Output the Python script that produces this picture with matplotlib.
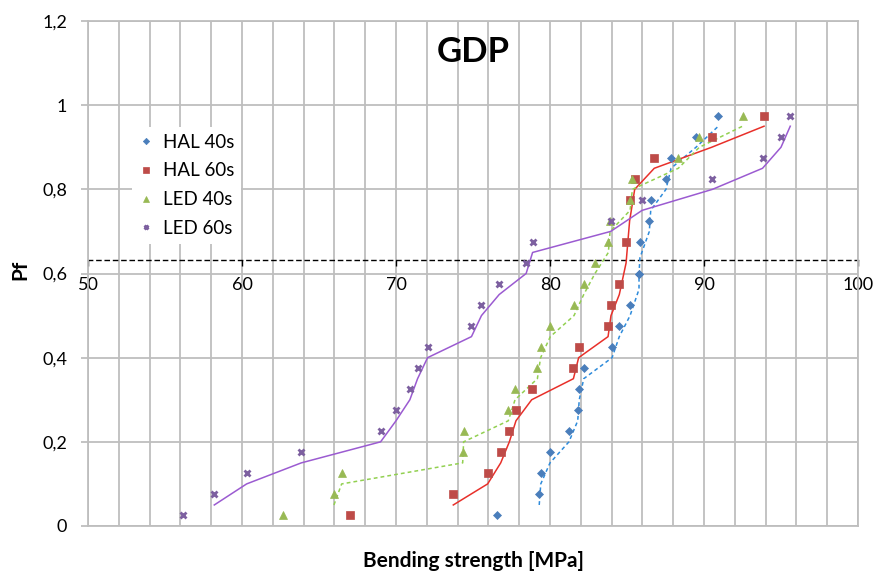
import matplotlib
matplotlib.use("Agg")
import matplotlib.pyplot as plt
import numpy as np
import pandas as pd

plt.rcParams['font.family'] = ['Lato', 'DejaVu Sans']

# failure probability (ranked) and bending strength [MPa] per series
hal40_x = [76.54, 79.3, 79.4, 80.0, 81.23, 81.8, 81.9, 82.19, 84.03, 84.5, 85.2,
           85.78, 85.78, 85.84, 86.45, 86.54, 87.53, 87.86, 89.48, 90.93]
hal40_pf = [0.025, 0.075, 0.125, 0.175, 0.225, 0.275, 0.325, 0.375, 0.425, 0.475, 0.525,
            0.6, 0.6, 0.675, 0.725, 0.775, 0.825, 0.875, 0.925, 0.975]

hal60_x = [67.0, 73.72, 75.95, 76.8, 77.36, 77.79, 78.81, 81.52, 81.86, 83.77, 83.96,
           84.5, 84.94, 85.17, 85.5, 86.77, 90.5, 93.9]
hal60_pf = [0.025, 0.075, 0.125, 0.175, 0.225, 0.275, 0.325, 0.375, 0.425, 0.475, 0.525,
            0.575, 0.675, 0.775, 0.825, 0.875, 0.925, 0.975]

led40_x = [62.68, 65.97, 66.47, 74.33, 74.39, 77.29, 77.73, 79.18, 79.39, 80.02, 81.56,
           82.19, 82.92, 83.79, 83.9, 85.2, 85.35, 88.33, 89.7, 92.5]
led40_pf = [0.025, 0.075, 0.125, 0.175, 0.225, 0.275, 0.325, 0.375, 0.425, 0.475, 0.525,
            0.575, 0.625, 0.675, 0.725, 0.775, 0.825, 0.875, 0.925, 0.975]

led60_x = [56.15, 58.2, 60.3, 63.85, 69.0, 70.0, 70.9, 71.4, 72.05, 74.9, 75.55,
           76.7, 78.45, 78.87, 83.94, 85.98, 90.55, 93.8, 95.0, 95.6]
led60_pf = [0.025, 0.075, 0.125, 0.175, 0.225, 0.275, 0.325, 0.375, 0.425, 0.475, 0.525,
            0.575, 0.625, 0.675, 0.725, 0.775, 0.825, 0.875, 0.925, 0.975]

y_ticks = [0, 0.2, 0.4, 0.6, 0.8, 1.0, 1.2]
y_ticklabels = ["0", "0,2", "0,4", "0,6", "0,8", "1", "1,2"]
x_ticks = [50, 60, 70, 80, 90, 100]
pf_ref = 0.632

series = [
    # label, x, pf, marker, msize, marker colour, line colour, line style
    ("HAL 40s", hal40_x, hal40_pf, "D", 4.3, "#4A7EBB", "#2E8BDB", (0, (2.5, 2))),
    ("HAL 60s", hal60_x, hal60_pf, "s", 5.2, "#BE4B48", "#E8302A", "-"),
    ("LED 40s", led40_x, led40_pf, "^", 5.6, "#98B954", "#92D050", (0, (2.5, 2))),
    ("LED 60s", led60_x, led60_pf, "x", 4.2, "#7D60A0", "#9B5BD1", "-"),
]

GRID = "#BEBEBE"

fig = plt.figure(figsize=(8.77, 5.75), dpi=100)
ax = fig.add_axes([88 / 877, 1 - 526 / 575, 770 / 877, 505 / 575])

for label, x, pf, mk, ms, mc, lc, ls in series:
    # Excel-style 2-period moving average trendline
    ma = pd.Series(pf).rolling(2).mean().to_numpy()[1:]
    ax.plot(x[1:], ma, color=lc, ls=ls, lw=1.1, zorder=3)
    if mk == "x":
        ax.plot(x, pf, ls="none", marker=mk, ms=ms, mec=mc, mew=2.0,
                label=label, zorder=4)
    else:
        ax.plot(x, pf, ls="none", marker=mk, ms=ms, mfc=mc, mec=mc, mew=0.5,
                label=label, zorder=4)

ax.set_xlim(50, 100)
ax.set_ylim(0, 1.2)
ax.set_xticks(x_ticks)
ax.set_xticks(np.arange(50, 101, 2), minor=True)
ax.set_yticks(y_ticks)
ax.set_yticklabels(y_ticklabels)
ax.grid(True, which="both", color=GRID, lw=1.3, zorder=0)
ax.set_axisbelow(True)
ax.axhline(0, color=GRID, lw=1.3, clip_on=False, zorder=1)

for s in ["top", "right", "left"]:
    ax.spines[s].set_color(GRID)
    ax.spines[s].set_linewidth(1.3)
ax.spines["bottom"].set_position(("data", pf_ref))
ax.spines["bottom"].set_linestyle((0, (3, 3)))
ax.spines["bottom"].set_color("black")
ax.spines["bottom"].set_linewidth(1.0)
ax.spines["bottom"].set_zorder(2)

ax.tick_params(axis="x", which="major", direction="out", length=4, width=1,
               color="black", labelsize=13, pad=8)
ax.tick_params(axis="x", which="minor", length=0)
ax.tick_params(axis="y", direction="out", length=5, width=1.3, color=GRID,
               labelsize=13, pad=10)

ax.text(0.5, 0.939, "GDP", transform=ax.transAxes, ha="center", va="center",
        fontsize=25, fontweight="bold")
ax.set_xlabel("Bending strength [MPa]", fontsize=15, fontweight="bold")
ax.xaxis.set_label_coords(0.5, -0.05)
ax.set_ylabel("Pf", fontsize=15, fontweight="bold")
ax.yaxis.set_label_coords(-0.075, 0.507)

leg = ax.legend(loc="upper left", bbox_to_anchor=(0.057, 0.79), frameon=True,
                fancybox=False, edgecolor="none", framealpha=1, fontsize=13.5,
                markerscale=0.75, handlelength=0.8, handletextpad=0.5,
                labelspacing=0.63, borderpad=0.35, borderaxespad=0)
leg.set_zorder(6)

fig.savefig("out.png", dpi=100)
